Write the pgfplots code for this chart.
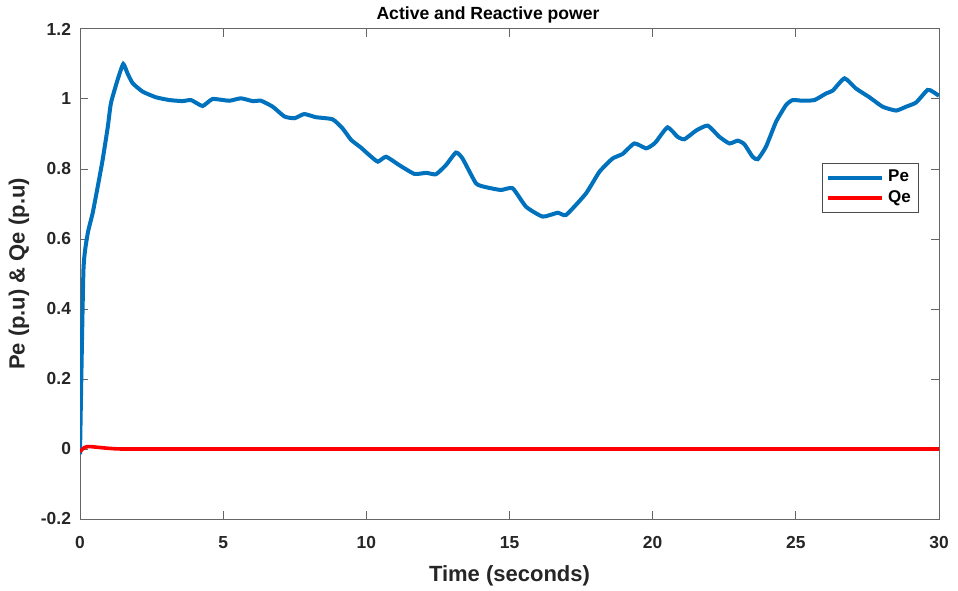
\documentclass[border=0pt]{standalone}
\usepackage{fontspec}
\setmainfont{Liberation Sans}
\usepackage{pgfplots}
\pgfplotsset{compat=1.18}
\definecolor{mblue}{rgb}{0,0.447,0.741}
\begin{document}
\begin{tikzpicture}
\begin{axis}[
    scale only axis,
    width=429.5pt,
    height=245pt,
    xmin=0, xmax=30,
    ymin=-0.2, ymax=1.2,
    xtick={0,5,...,30},
    ytick={-0.2,0,0.2,0.4,0.6,0.8,1,1.2},
    tick align=inside,
    major tick length=4pt,
    axis line style={black!60, line width=0.5pt},
    every tick/.style={black!60, line width=0.5pt},
    /pgf/number format/assume math mode=true,
    tick label style={font=\bfseries\fontsize{8.7}{10}\selectfont, black!85},
    xticklabel style={yshift=-5pt},
    yticklabel style={xshift=-1pt},
    title={Active and Reactive power},
    title style={font=\bfseries\fontsize{8.8}{10}\selectfont, at={(0.475,1)}, yshift=-6.5pt},
    xlabel={Time (seconds)},
    ylabel={Pe (p.u) \& Qe (p.u)},
    label style={font=\bfseries\fontsize{11}{13}\selectfont, black!85},
    xlabel style={yshift=-1.5pt},
    ylabel style={yshift=-1pt},
    legend style={at={(0.977,0.727)}, anchor=north east, draw=black!70,
        font=\bfseries\fontsize{8.5}{10}\selectfont, row sep=-1pt,
        inner xsep=2pt, inner ysep=1.5pt},
    legend cell align=left,
    legend image code/.code={\draw[#1] (0cm,0cm) -- (0.95cm,0cm);},
]
\coordinate (ll) at (rel axis cs:0,0);
\coordinate (ur) at (rel axis cs:1,1);

% Pe
\addplot[mblue, line width=2pt, smooth, tension=0.3] coordinates {
    (0,-0.015) (0.12,0.51) (0.27,0.616) (0.44,0.673) (0.62,0.75)
    (0.79,0.826) (0.97,0.92) (1.08,0.988) (1.31,1.054) (1.51,1.1)
    (1.66,1.073) (1.84,1.045) (2.19,1.021) (2.65,1.005) (3.12,0.997)
    (3.58,0.994) (3.88,0.997) (4.28,0.98) (4.63,1.0) (5.21,0.995)
    (5.62,1.002) (6.03,0.994) (6.32,0.995) (6.73,0.978) (7.14,0.95)
    (7.49,0.945) (7.83,0.957) (8.24,0.948) (8.82,0.942) (9.17,0.916)
    (9.47,0.883) (9.8,0.862) (10.1,0.84) (10.4,0.821) (10.69,0.835)
    (11.15,0.811) (11.68,0.786) (12.09,0.789) (12.43,0.785) (12.78,0.811)
    (13.13,0.847) (13.36,0.83) (13.83,0.759) (14.18,0.748) (14.7,0.74)
    (15.11,0.745) (15.58,0.692) (16.16,0.664) (16.68,0.675) (16.98,0.669)
    (17.67,0.73) (18.14,0.792) (18.6,0.83) (18.95,0.843) (19.36,0.873)
    (19.77,0.859) (20.0,0.869) (20.12,0.878) (20.52,0.919) (20.87,0.892)
    (21.11,0.885) (21.52,0.91) (21.92,0.924) (22.33,0.892) (22.68,0.873)
    (22.97,0.881) (23.2,0.871) (23.49,0.835) (23.67,0.828) (23.96,0.864)
    (24.31,0.935) (24.66,0.983) (24.89,0.997) (25.24,0.995) (25.65,0.997)
    (26.06,1.016) (26.29,1.024) (26.7,1.059) (27.1,1.03) (27.57,1.005)
    (28.03,0.978) (28.5,0.967) (28.85,0.978) (29.2,0.99) (29.6,1.026)
    (29.78,1.021) (30,1.009)
};
\addlegendentry{Pe}

% Qe
\addplot[red, line width=1.8pt, smooth] coordinates {
    (0,-0.008) (0.15,0.004) (0.32,0.007) (0.6,0.005) (1.0,0.002)
    (1.5,0.0) (3,0.0) (6,0.0) (10,0.0) (15,0.0) (20,0.0) (25,0.0) (30,0.0)
};
\addlegendentry{Qe}

\end{axis}
\pgfresetboundingbox
\path[use as bounding box] ([xshift=-40pt,yshift=-35.5pt]ll) rectangle ([xshift=9.5pt,yshift=14.5pt]ur);
\end{tikzpicture}
\end{document}
